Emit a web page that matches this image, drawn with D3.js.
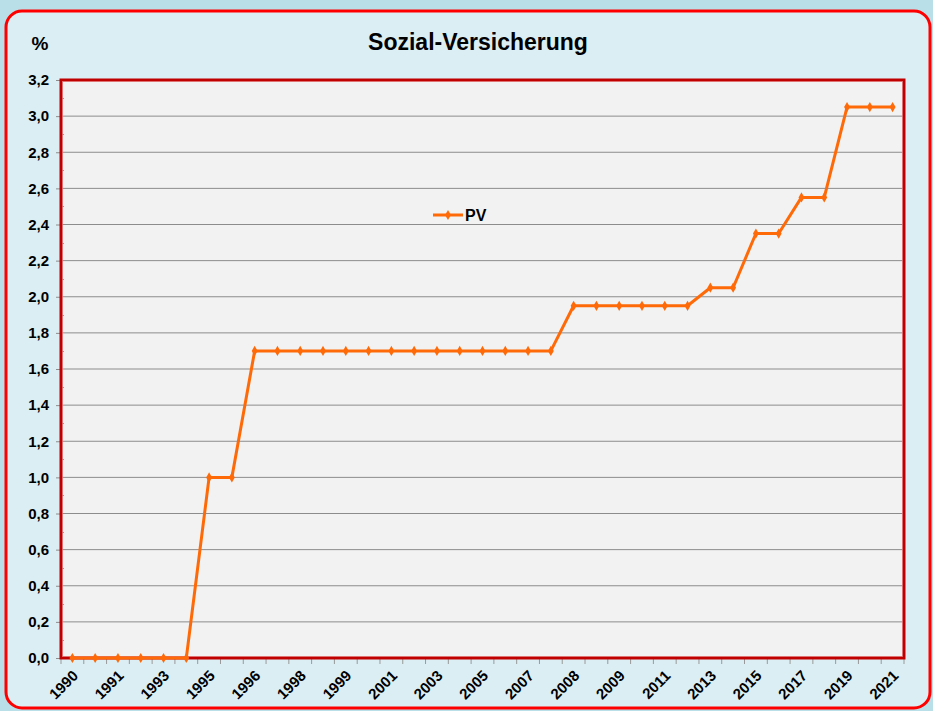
<!DOCTYPE html>
<meta charset="utf-8">
<style>
body { margin: 0; background: #b9dfe8; }
text { font-family: Arial, "Liberation Sans", sans-serif; font-weight: bold; fill: #000; }
</style>
<body>
<script src="https://cdnjs.cloudflare.com/ajax/libs/d3/7.8.5/d3.min.js"></script>
<script>
// categories (only every second one is labelled on the axis)
var years = ["1990","1990","1991","1992","1993","1994","1995","1995","1996","1997",
             "1998","1998","1999","2000","2001","2002","2003","2004","2005","2006",
             "2007","2007","2008","2008","2009","2010","2011","2012","2013","2014",
             "2015","2016","2017","2018","2019","2020","2021"];
var pv = [0,0,0,0,0,0,1.0,1.0,1.7,1.7,
          1.7,1.7,1.7,1.7,1.7,1.7,1.7,1.7,1.7,1.7,
          1.7,1.7,1.95,1.95,1.95,1.95,1.95,1.95,2.05,2.05,
          2.35,2.35,2.55,2.55,3.05,3.05,3.05];
var yTicks = d3.range(0, 3.21, 0.2);
var seriesName = "PV";

var w = 933, h = 711;
var plot = {left: 61, top: 80, right: 904, bottom: 658};
var orange = "#ff6a08";

var svg = d3.select("body").append("svg").attr("width", w).attr("height", h);

// outer panel
svg.append("rect")
	.attr("x", 6).attr("y", 11).attr("width", 924).attr("height", 697)
	.attr("rx", 16).attr("ry", 16)
	.attr("fill", "#dbeef4").attr("stroke", "#ff0000").attr("stroke-width", 3);

var x = d3.scaleBand().domain(d3.range(years.length)).range([plot.left, plot.right]);
var y = d3.scaleLinear().domain([0, 3.2]).range([plot.bottom, plot.top]);

// plot area
svg.append("rect")
	.attr("x", plot.left).attr("y", plot.top)
	.attr("width", plot.right - plot.left).attr("height", plot.bottom - plot.top)
	.attr("fill", "#f2f2f2");

// gridlines
svg.append("g").selectAll("line").data(yTicks).enter().append("line")
	.attr("x1", plot.left).attr("x2", plot.right)
	.attr("y1", function(d) { return y(d); }).attr("y2", function(d) { return y(d); })
	.attr("stroke", "#8c8c8c").attr("stroke-width", 1);

// y minor ticks
svg.append("g").selectAll("line").data(d3.range(0.1, 3.2, 0.2)).enter().append("line")
	.attr("x1", plot.left - 1).attr("x2", plot.left + 3)
	.attr("y1", function(d) { return Math.round(y(d)) + 0.5; })
	.attr("y2", function(d) { return Math.round(y(d)) + 0.5; })
	.attr("stroke", "#999");

// y axis
var yAxis = svg.append("g")
	.attr("transform", "translate(" + plot.left + ",0)")
	.call(d3.axisLeft(y).tickValues(yTicks).tickSize(5).tickPadding(7)
		.tickFormat(function(d) { return d3.format(".1f")(d).replace(".", ","); }));
yAxis.select(".domain").remove();
yAxis.selectAll(".tick line").attr("stroke", "#8c8c8c");
yAxis.selectAll("text").style("font-size", "15px").style("font-family", "Arial, 'Liberation Sans', sans-serif");

// x axis ticks at band boundaries
var xb = svg.append("g");
xb.selectAll("line").data(d3.range(years.length + 1)).enter().append("line")
	.attr("x1", function(i) { return plot.left + i * x.step(); })
	.attr("x2", function(i) { return plot.left + i * x.step(); })
	.attr("y1", plot.bottom).attr("y2", plot.bottom + 6)
	.attr("stroke", "#999");

xb.selectAll("text").data(years.map(function(d, i) { return {label: d, i: i}; })
		.filter(function(d) { return d.i % 2 === 0; }))
	.enter().append("text")
	.attr("transform", function(d) {
		return "translate(" + (x(d.i) + x.bandwidth() / 2 + 3) + "," + (plot.bottom + 15) + ") rotate(-45)";
	})
	.attr("text-anchor", "end")
	.attr("dy", "0.35em")
	.style("font-size", "15px")
	.text(function(d) { return d.label; });

// plot border
svg.append("rect")
	.attr("x", plot.left).attr("y", plot.top)
	.attr("width", plot.right - plot.left).attr("height", plot.bottom - plot.top)
	.attr("fill", "none").attr("stroke", "#c00000").attr("stroke-width", 3);
svg.append("rect")
	.attr("x", plot.left + 1.5).attr("y", plot.top + 1.5)
	.attr("width", plot.right - plot.left - 3).attr("height", plot.bottom - plot.top - 3)
	.attr("fill", "none").attr("stroke", "#e07070").attr("stroke-width", 0.8);

// series
var cx = function(d, i) { return x(i) + x.bandwidth() / 2; };
var line = d3.line().x(cx).y(function(d) { return y(d); });
svg.append("path").datum(pv)
	.attr("d", line)
	.attr("fill", "none").attr("stroke", orange).attr("stroke-width", 3)
	.attr("stroke-linejoin", "round");

var diamond = d3.symbol().type(d3.symbolDiamond).size(30);
svg.append("g").selectAll("path").data(pv).enter().append("path")
	.attr("d", diamond)
	.attr("transform", function(d, i) { return "translate(" + cx(d, i) + "," + y(d) + ")"; })
	.attr("fill", orange);

// legend
var lg = svg.append("g").attr("transform", "translate(433,215)");
lg.append("line").attr("x1", 0).attr("x2", 30).attr("y1", 0).attr("y2", 0)
	.attr("stroke", orange).attr("stroke-width", 3);
lg.append("path").attr("d", diamond).attr("transform", "translate(15,0)").attr("fill", orange);
lg.append("text").attr("x", 32).attr("y", 0).attr("dy", "0.36em")
	.style("font-size", "16px").text(seriesName);

// titles
svg.append("text").attr("x", 478).attr("y", 42).attr("dy", "0.35em")
	.attr("text-anchor", "middle").style("font-size", "23px")
	.text("Sozial-Versicherung");
svg.append("text").attr("x", 40).attr("y", 43).attr("dy", "0.35em")
	.attr("text-anchor", "middle").style("font-size", "19px")
	.text("%");
</script>
</body>
